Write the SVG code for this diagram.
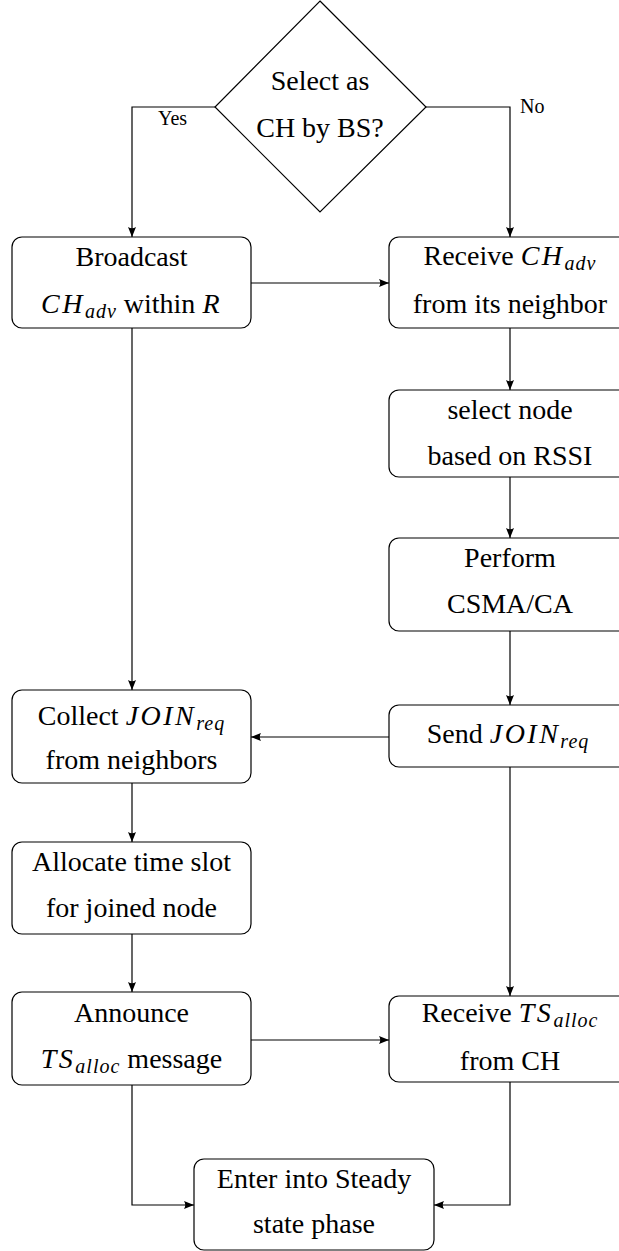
<svg xmlns="http://www.w3.org/2000/svg" width="619" height="1251" viewBox="0 0 619 1251">
  <style>
    .box { fill: #fff; stroke: #000; stroke-width: 1.2; }
    .wire { fill: none; stroke: #000; stroke-width: 1.2; }
    .lbl { font-family: "Liberation Serif", "Times New Roman", serif; font-size: 28px; fill: #000; text-anchor: middle; }
    .small { font-family: "Liberation Serif", "Times New Roman", serif; font-size: 20px; fill: #000; }
    .m { font-style: italic; letter-spacing: 2.5px; }
    .sub { font-style: italic; font-size: 20px; letter-spacing: 1px; }
  </style>
  <defs>
    <marker id="tip" viewBox="0 0 10 8" refX="10" refY="4" markerWidth="10" markerHeight="8" markerUnits="userSpaceOnUse" orient="auto">
      <path d="M0,0 L10,4 L0,8 Q2.5,4 0,0 Z" fill="#000"/>
    </marker>
  </defs>

  <!-- connectors -->
  <g id="connectors">
    <path class="wire" d="M215,107 H132 V237" marker-end="url(#tip)"/>
    <path class="wire" d="M426,107 H510 V237" marker-end="url(#tip)"/>
    <path class="wire" d="M251,283 H389" marker-end="url(#tip)"/>
    <path class="wire" d="M510,328 V390" marker-end="url(#tip)"/>
    <path class="wire" d="M510,477 V538" marker-end="url(#tip)"/>
    <path class="wire" d="M510,631 V705" marker-end="url(#tip)"/>
    <path class="wire" d="M389,737 H251" marker-end="url(#tip)"/>
    <path class="wire" d="M132,328 V690" marker-end="url(#tip)"/>
    <path class="wire" d="M132,783 V842" marker-end="url(#tip)"/>
    <path class="wire" d="M132,934 V992" marker-end="url(#tip)"/>
    <path class="wire" d="M251,1040 H389" marker-end="url(#tip)"/>
    <path class="wire" d="M510,767 V996" marker-end="url(#tip)"/>
    <path class="wire" d="M132,1085 V1205 H194" marker-end="url(#tip)"/>
    <path class="wire" d="M510,1082 V1205 H434" marker-end="url(#tip)"/>
    <text class="small" x="158" y="125">Yes</text>
    <text class="small" x="520" y="113">No</text>
  </g>

  <!-- decision -->
  <g id="decision">
    <polygon class="box" points="320,1 426,107 320,212 215,107"/>
    <text class="lbl" x="320" y="90">Select as</text>
    <text class="lbl" x="320" y="137">CH by BS?</text>
  </g>

  <g id="broadcast">
    <rect class="box" x="12" y="237" width="239" height="91" rx="10"/>
    <text class="lbl" x="131.5" y="266">Broadcast</text>
    <text class="lbl" x="131.5" y="313"><tspan class="m">CH</tspan><tspan class="sub" dy="5">adv</tspan><tspan dy="-5"> within </tspan><tspan class="m">R</tspan></text>
  </g>

  <g id="receive-adv">
    <rect class="box" x="389" y="237" width="244" height="91" rx="10"/>
    <text class="lbl" x="510" y="265">Receive <tspan class="m">CH</tspan><tspan class="sub" dy="5">adv</tspan></text>
    <text class="lbl" x="510" y="313">from its neighbor</text>
  </g>

  <g id="select-node">
    <rect class="box" x="389" y="390" width="244" height="87" rx="10"/>
    <text class="lbl" x="510" y="419">select node</text>
    <text class="lbl" x="510" y="465">based on RSSI</text>
  </g>

  <g id="csma">
    <rect class="box" x="389" y="538" width="244" height="93" rx="10"/>
    <text class="lbl" x="510" y="567">Perform</text>
    <text class="lbl" x="510" y="613">CSMA/CA</text>
  </g>

  <g id="send-join">
    <rect class="box" x="389" y="705" width="244" height="62" rx="10"/>
    <text class="lbl" x="508" y="743">Send <tspan class="m">JOIN</tspan><tspan class="sub" dy="5">req</tspan></text>
  </g>

  <g id="collect-join">
    <rect class="box" x="12" y="690" width="239" height="93" rx="10"/>
    <text class="lbl" x="131.5" y="725">Collect <tspan class="m">JOIN</tspan><tspan class="sub" dy="5">req</tspan></text>
    <text class="lbl" x="131.5" y="769">from neighbors</text>
  </g>

  <g id="allocate">
    <rect class="box" x="12" y="842" width="239" height="92" rx="10"/>
    <text class="lbl" x="131.5" y="871">Allocate time slot</text>
    <text class="lbl" x="131.5" y="917">for joined node</text>
  </g>

  <g id="announce">
    <rect class="box" x="12" y="992" width="239" height="93" rx="10"/>
    <text class="lbl" x="131.5" y="1022">Announce</text>
    <text class="lbl" x="131.5" y="1068"><tspan class="m">TS</tspan><tspan class="sub" dy="5">alloc</tspan><tspan dy="-5"> message</tspan></text>
  </g>

  <g id="receive-ts">
    <rect class="box" x="389" y="996" width="244" height="86" rx="10"/>
    <text class="lbl" x="510" y="1022">Receive <tspan class="m">TS</tspan><tspan class="sub" dy="5">alloc</tspan></text>
    <text class="lbl" x="510" y="1070">from CH</text>
  </g>

  <g id="steady-state">
    <rect class="box" x="194" y="1159" width="240" height="91" rx="10"/>
    <text class="lbl" x="314" y="1188">Enter into Steady</text>
    <text class="lbl" x="314" y="1233">state phase</text>
  </g>
</svg>
